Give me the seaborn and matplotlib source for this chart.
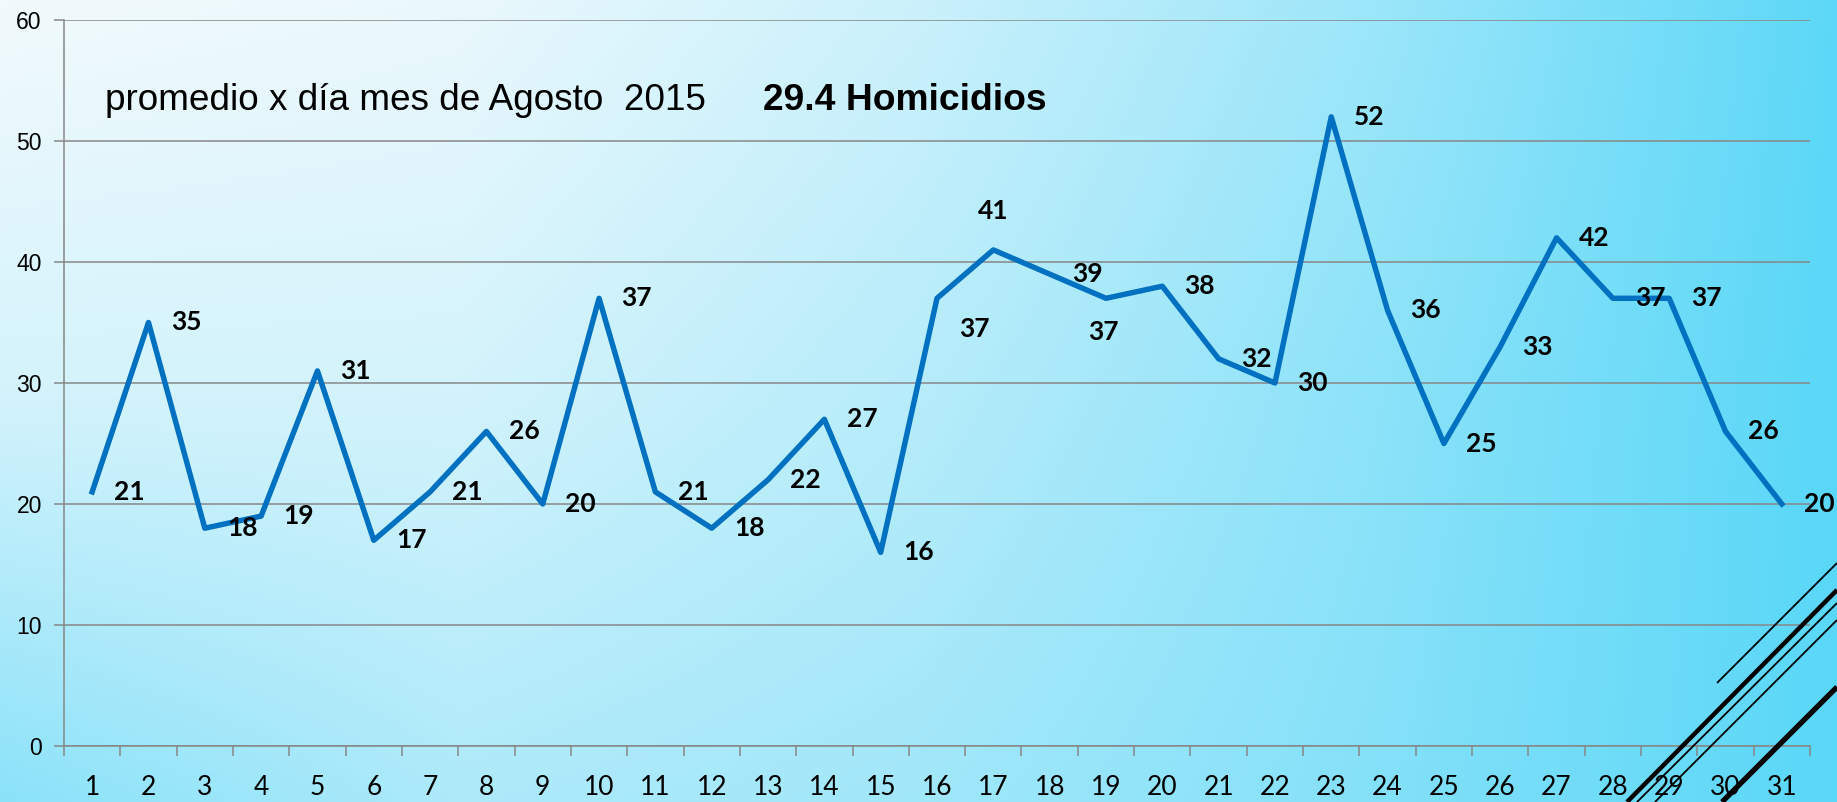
"""
Homicidios por día - Agosto 2015
Line chart over a light-blue slide background
"""

import numpy as np
import matplotlib
matplotlib.use("Agg")
import matplotlib.pyplot as plt
from matplotlib.lines import Line2D
import seaborn as sns

# Data
days = list(range(1, 32))
homicidios = [21, 35, 18, 19, 31, 17, 21, 26, 20, 37, 21, 18, 22, 27, 16,
              37, 41, 39, 37, 38, 32, 30, 52, 36, 25, 33, 42, 37, 37, 26, 20]
day_labels = [str(d) for d in days]
y_ticks = [0, 10, 20, 30, 40, 50, 60]
title_normal = "promedio x día mes de Agosto  2015"
title_bold = "29.4 Homicidios"

LINE_COLOR = "#0070C0"
GRID_COLOR = "#878787"
W, H = 1837, 802


def draw_background(fig):
    """Slide gradient: whitish top-left fading to cyan on the right"""
    gx = np.array([0.0, 0.25, 0.5, 0.75, 1.0])
    gy = np.array([0.0, 0.5, 1.0])
    grid = np.array([
        [0.00, 0.05, 0.25, 0.55, 0.95],
        [0.20, 0.20, 0.38, 0.65, 0.97],
        [0.66, 0.44, 0.52, 0.70, 0.97],
    ])
    xs = np.linspace(0, 1, 400)
    ys = np.linspace(0, 1, 200)
    rows = np.array([np.interp(xs, gx, r) for r in grid])
    d = np.array([np.interp(ys, gy, rows[:, i]) for i in range(len(xs))]).T
    c0 = np.array([242, 250, 253]) / 255
    c1 = np.array([85, 214, 247]) / 255
    img = c0[None, None, :] + d[:, :, None] * (c1 - c0)[None, None, :]

    ax_bg = fig.add_axes([0, 0, 1, 1], zorder=0)
    ax_bg.imshow(img, aspect="auto", extent=[0, 1, 0, 1], interpolation="bilinear")
    ax_bg.set_xlim(0, 1)
    ax_bg.set_ylim(0, 1)
    ax_bg.axis("off")


def draw_decoration(fig):
    """Black diagonal strokes from the slide template (bottom right)"""
    strokes = [
        ((1717, 683), (1837, 563), 1.3),
        ((1627, 802), (1837, 590), 3.2),
        ((1637, 802), (1837, 603), 1.3),
        ((1655, 802), (1837, 620), 1.3),
        ((1722, 802), (1837, 687), 3.8),
    ]
    for (x0, y0), (x1, y1), lw in strokes:
        fig.add_artist(Line2D([x0 / W, x1 / W], [1 - y0 / H, 1 - y1 / H],
                              color="black", linewidth=lw, zorder=10,
                              solid_capstyle="butt"))


def main():
    fig = plt.figure(figsize=(W / 100, H / 100), dpi=100)
    draw_background(fig)

    ax = fig.add_axes([64 / W, 1 - 746 / H, (1810 - 64) / W, (746 - 20) / H], zorder=1)
    ax.set_facecolor("none")

    sns.lineplot(x=days, y=homicidios, ax=ax, color=LINE_COLOR,
                 linewidth=3.9, zorder=3)

    # data labels: right of the point, except a few
    offsets = {16: (27, -22), 17: (0, 28), 19: (-2, -24)}
    for d, v in zip(days, homicidios):
        dx, dy = offsets.get(d, (27, 0))
        ax.annotate(str(v), (d, v), xytext=(dx, dy), textcoords="offset points",
                    ha="center", va="center", fontsize=19, fontweight="bold",
                    family="Lato", color="black", zorder=4, annotation_clip=False)

    ax.set_xlim(0.5, 31.5)
    ax.set_ylim(0, 60)
    ax.set_yticks(y_ticks)
    ax.set_yticklabels([str(t) for t in y_ticks], family="Liberation Sans", fontsize=16.5)
    ax.set_xticks(days)
    ax.set_xticklabels(day_labels, family="Lato", fontsize=19)
    ax.set_xticks(np.arange(0.5, 32, 1), minor=True)
    ax.tick_params(axis="x", which="major", length=0, pad=21)
    ax.tick_params(axis="x", which="minor", length=7, width=1.1,
                   color=GRID_COLOR, direction="out")
    ax.tick_params(axis="y", length=7, width=1.1, color=GRID_COLOR, pad=9)
    ax.set_xlabel("")
    ax.set_ylabel("")

    ax.grid(axis="y", color=GRID_COLOR, linewidth=1.1, zorder=1)
    ax.set_axisbelow(True)
    for side in ["top", "right"]:
        ax.spines[side].set_visible(False)
    for side in ["left", "bottom"]:
        ax.spines[side].set_color(GRID_COLOR)
        ax.spines[side].set_linewidth(1.1)

    fig.text(105 / W, 1 - 110 / H, title_normal, family="Liberation Sans",
             fontsize=26.6, va="baseline", ha="left", zorder=5)
    fig.text(763 / W, 1 - 110 / H, title_bold, family="Liberation Sans",
             fontsize=26.8, fontweight="bold", va="baseline", ha="left", zorder=5)

    draw_decoration(fig)

    fig.savefig("out.png", dpi=100)
    print("✅ Saved out.png")


if __name__ == "__main__":
    main()
